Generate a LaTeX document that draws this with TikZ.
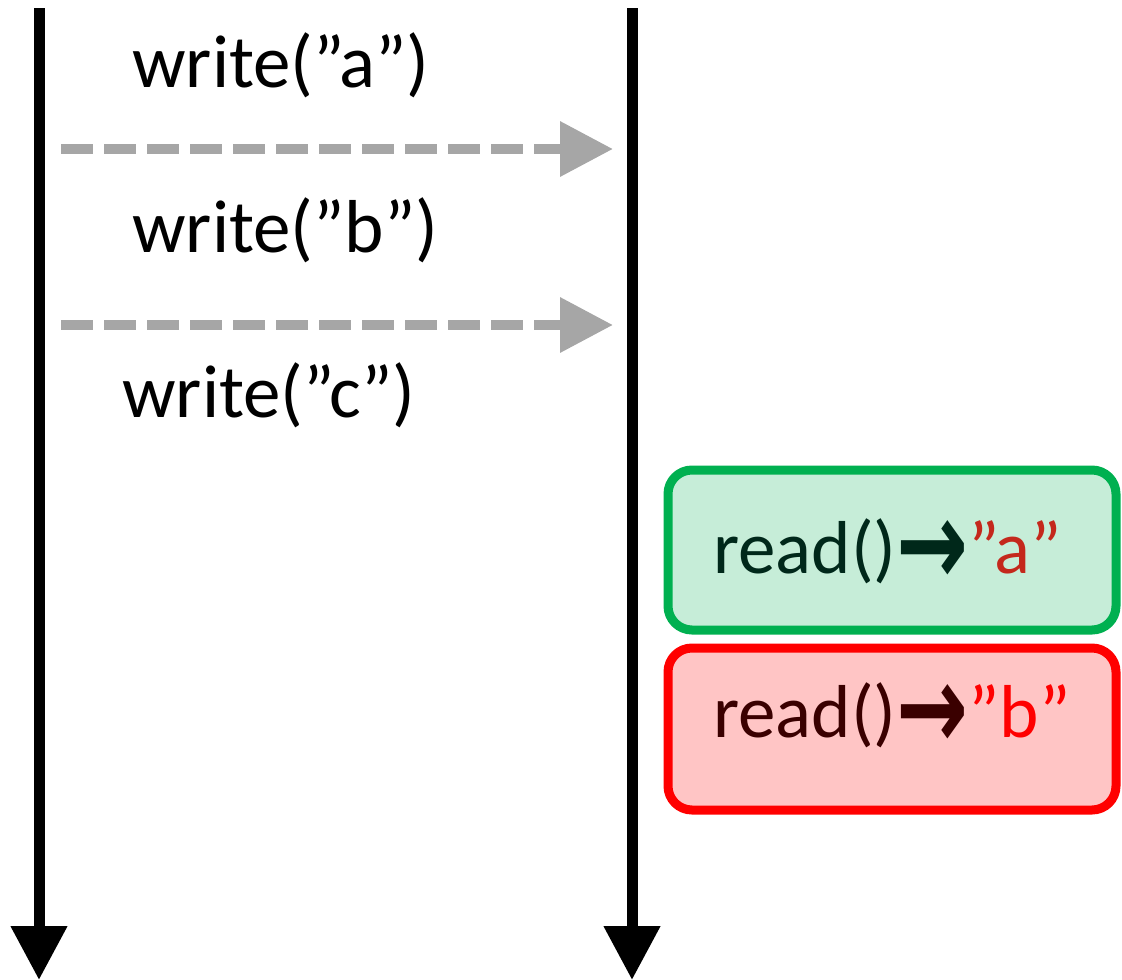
\documentclass[tikz,border=0pt]{standalone}
\usepackage{fontspec}
\setmainfont{Carlito}
\newfontfamily\arrowfont{DejaVu Sans Bold}
\usetikzlibrary{arrows.meta}

\definecolor{msgray}{HTML}{A6A6A6}
\definecolor{okline}{HTML}{00B050}
\definecolor{okfill}{HTML}{C6EDD8}
\definecolor{oktext}{HTML}{00281A}
\definecolor{okval}{HTML}{C4281C}
\definecolor{badline}{HTML}{FF0000}
\definecolor{badfill}{HTML}{FFC5C5}
\definecolor{badtext}{HTML}{3A0000}
\definecolor{badval}{HTML}{FF0000}

\newcommand\bigtext{\fontsize{75}{90}\selectfont}
\newcommand\readarrow{\raisebox{-12pt}{\scalebox{1}[1.4]{\arrowfont\fontsize{86}{90}\selectfont →}}}

\tikzset{
  lifeline/.style={line width=11pt, -{Triangle[width=54pt,length=54pt]}},
  msg/.style={msgray, line width=10pt, dash pattern=on 32pt off 11pt,
              -{Triangle[width=53pt,length=53pt]}},
  label/.style={anchor=base west, inner sep=0pt, font=\bigtext},
  readbox/.style={rounded corners=24pt, line width=9pt, minimum width=448pt,
                  minimum height=160pt, inner sep=0pt},
  readtext/.style={anchor=base west, inner sep=0pt, font=\bigtext},
}

\begin{document}
\begin{tikzpicture}[x=1pt,y=-1pt]
  \useasboundingbox (0,0) rectangle (1122,980);

  % two process timelines
  \coordinate (pa top) at (39,8);
  \coordinate (pa bot) at (39,980);
  \coordinate (pb top) at (632,8);
  \coordinate (pb bot) at (632,980);
  \draw[lifeline] (pa top) -- (pa bot);
  \draw[lifeline] (pb top) -- (pb bot);

  % writes on the first process
  \node[label] (wa) at (132,87) {write(”a”)};
  \node[label] (wb) at (132,252) {write(”b”)};
  \node[label] (wc) at (122,417) {write(”c”)};

  % propagated messages
  \coordinate (ma s) at (61,149);
  \coordinate (ma e) at (613,149);
  \coordinate (mb s) at (61,325);
  \coordinate (mb e) at (613,325);
  \draw[msg] (ma s) -- (ma e);
  \draw[msg] (mb s) -- (mb e);

  % reads on the second process
  \node[readbox, draw=okline, fill=okfill] (ra) at (892,550) {};
  \node[readtext] (ra text) at (713,573)
    {\color{oktext}read()\readarrow\color{okval}”a”};
  \node[readbox, draw=badline, fill=badfill, minimum height=162pt] (rb) at (892,729) {};
  \node[readtext] (rb text) at (713,737)
    {\color{badtext}read()\readarrow\color{badval}”b”};
\end{tikzpicture}
\end{document}
